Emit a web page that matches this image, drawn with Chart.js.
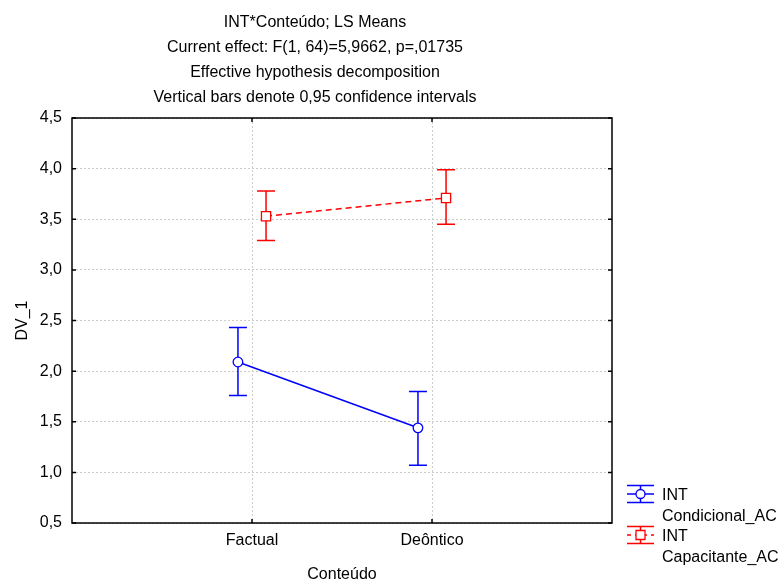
<!DOCTYPE html>
<html><head><meta charset="utf-8">
<script src="https://cdn.jsdelivr.net/npm/chart.js@4.4.0/dist/chart.umd.min.js"></script>
<style>html,body{margin:0;padding:0;background:#fff;}#wrap{width:781px;height:583px;position:relative}</style>
</head><body><div id="wrap"><canvas id="c" width="781" height="583"></canvas></div>
<script>
// ---- data ----
const categories = ['Factual', 'Deôntico'];
const seriesLabels = [['INT', 'Condicional_AC'], ['INT', 'Capacitante_AC']];
const condMean = [2.09, 1.44];
const condLow  = [1.76, 1.07];
const condHigh = [2.43, 1.80];
const capMean  = [3.53, 3.71];
const capLow   = [3.29, 3.45];
const capHigh  = [3.78, 3.99];
const yTicks = [0.5, 1.0, 1.5, 2.0, 2.5, 3.0, 3.5, 4.0, 4.5];
const titleLines = [
  'INT*Conteúdo; LS Means',
  'Current effect: F(1, 64)=5,9662, p=,01735',
  'Effective hypothesis decomposition',
  'Vertical bars denote 0,95 confidence intervals'
];
const xTitle = 'Conteúdo';
const yTitle = 'DV_1';

// ---- styling ----
const FAMILY = '"Liberation Sans", Arial, sans-serif';
const FSIZE = 16;
const FONT = FSIZE + 'px ' + FAMILY;
const BLUE = '#0000ff';
const RED = '#ff0000';
const OFFSET = 0.078;

const series = [
  {mean: condMean, low: condLow, high: condHigh, color: BLUE, off: -OFFSET, dash: [], style: 'circle'},
  {mean: capMean,  low: capLow,  high: capHigh,  color: RED,  off: OFFSET,  dash: [6, 4], style: 'rect'}
];

const errorBars = {
  id: 'errorBars',
  beforeDatasetsDraw(chart) {
    const {ctx, scales: {x, y}} = chart;
    ctx.save();
    ctx.lineWidth = 1.5;
    series.forEach(s => {
      ctx.strokeStyle = s.color;
      s.mean.forEach((m, i) => {
        const px = x.getPixelForValue(i + 1 + s.off);
        const yl = y.getPixelForValue(s.low[i]);
        const yh = y.getPixelForValue(s.high[i]);
        ctx.beginPath();
        ctx.moveTo(px, yl); ctx.lineTo(px, yh);
        ctx.moveTo(px - 9, yl); ctx.lineTo(px + 9, yl);
        ctx.moveTo(px - 9, yh); ctx.lineTo(px + 9, yh);
        ctx.stroke();
      });
    });
    ctx.restore();
  }
};

const frame = {
  id: 'frame',
  afterDraw(chart) {
    const {ctx, chartArea: a, scales: {x, y}} = chart;
    ctx.save();
    ctx.strokeStyle = '#000';
    ctx.lineWidth = 1.5;
    ctx.strokeRect(a.left, a.top, a.right - a.left, a.bottom - a.top);
    ctx.beginPath();
    yTicks.forEach(v => {
      const py = y.getPixelForValue(v);
      ctx.moveTo(a.left, py); ctx.lineTo(a.left + 4, py);
      ctx.moveTo(a.right, py); ctx.lineTo(a.right - 4, py);
    });
    categories.forEach((c, i) => {
      const px = x.getPixelForValue(i + 1);
      ctx.moveTo(px, a.bottom); ctx.lineTo(px, a.bottom - 4);
      ctx.moveTo(px, a.top); ctx.lineTo(px, a.top + 4);
    });
    ctx.stroke();

    // titles
    ctx.fillStyle = '#000';
    ctx.font = FONT;
    ctx.textAlign = 'center';
    ctx.textBaseline = 'alphabetic';
    titleLines.forEach((t, i) => ctx.fillText(t, 315, 27 + i * 25));
    ctx.fillText(xTitle, (a.left + a.right) / 2, 579);
    ctx.save();
    ctx.translate(27, (a.top + a.bottom) / 2);
    ctx.rotate(-Math.PI / 2);
    ctx.fillText(yTitle, 0, 0);
    ctx.restore();

    // legend
    const drawIcon = (s, cy) => {
      ctx.save();
      ctx.strokeStyle = s.color;
      ctx.lineWidth = 1.5;
      const x0 = 627, x1 = 654, cx = 640.5;
      ctx.beginPath();
      ctx.moveTo(x0, cy - 8.5); ctx.lineTo(x1, cy - 8.5);
      ctx.moveTo(x0, cy + 8.5); ctx.lineTo(x1, cy + 8.5);
      ctx.moveTo(cx, cy - 8.5); ctx.lineTo(cx, cy + 8.5);
      ctx.stroke();
      ctx.setLineDash(s.dash.length ? [4, 4] : []);
      ctx.beginPath();
      ctx.moveTo(x0, cy); ctx.lineTo(x1, cy);
      ctx.stroke();
      ctx.setLineDash([]);
      ctx.fillStyle = '#fff';
      ctx.lineWidth = 1.3;
      ctx.beginPath();
      if (s.style === 'circle') ctx.arc(cx, cy, 4.5, 0, Math.PI * 2);
      else ctx.rect(cx - 4.5, cy - 4.5, 9, 9);
      ctx.fill(); ctx.stroke();
      ctx.restore();
    };
    const legendY = [494, 535];
    series.forEach((s, k) => {
      drawIcon(s, legendY[k]);
      ctx.textAlign = 'left';
      ctx.fillStyle = '#000';
      ctx.fillText(seriesLabels[k][0], 662, legendY[k] + 5.5);
      ctx.fillText(seriesLabels[k][1], 662, legendY[k] + 26.5);
    });
    ctx.restore();
  }
};

new Chart(document.getElementById('c'), {
  type: 'scatter',
  data: {
    datasets: series.map((s, k) => ({
      label: seriesLabels[k].join(' '),
      data: s.mean.map((m, i) => ({x: i + 1 + s.off, y: m})),
      showLine: true,
      borderColor: s.color,
      borderWidth: 1.5,
      borderDash: s.dash,
      pointStyle: s.style,
      pointRadius: s.style === 'rect' ? 6.5 : 4.8,
      pointBorderWidth: 1.3,
      pointBackgroundColor: '#fff',
      pointBorderColor: s.color
    }))
  },
  options: {
    responsive: false,
    animation: false,
    layout: {padding: {top: 118, right: 169, left: 0, bottom: 0}},
    plugins: {legend: {display: false}, title: {display: false}, tooltip: {enabled: false}},
    scales: {
      x: {
        type: 'linear', min: 0, max: 3,
        afterBuildTicks: s => { s.ticks = categories.map((c, i) => ({value: i + 1})); },
        afterFit: s => { s.height = 60; },
        grid: {color: '#cccccc', drawTicks: false, lineWidth: 1},
        border: {display: false, dash: [2, 2]},
        ticks: {
          font: {family: FAMILY, size: FSIZE},
          color: '#000', padding: 8, maxRotation: 0, autoSkip: false,
          callback: v => categories[Math.round(v) - 1] || ''
        }
      },
      y: {
        min: 0.5, max: 4.5,
        afterBuildTicks: s => { s.ticks = yTicks.map(v => ({value: v})); },
        afterFit: s => { s.width = 72; },
        grid: {color: '#cccccc', drawTicks: false, lineWidth: 1},
        border: {display: false, dash: [2, 2]},
        ticks: {
          font: {family: FAMILY, size: FSIZE},
          color: '#000', padding: 10, autoSkip: false,
          callback: v => Number(v).toFixed(1).replace('.', ',')
        }
      }
    }
  },
  plugins: [errorBars, frame]
});
</script>
</body></html>
